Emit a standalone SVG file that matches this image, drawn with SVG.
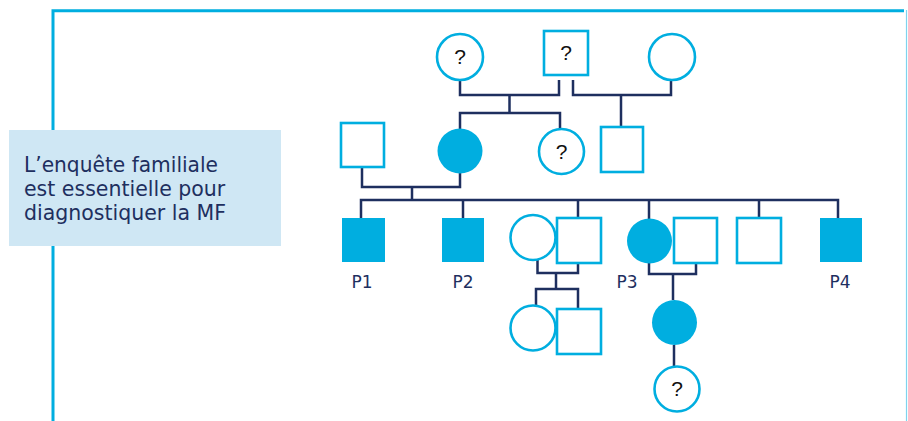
<svg xmlns="http://www.w3.org/2000/svg" width="908" height="421" viewBox="0 0 908 421">
<style>
.o{fill:#fff;stroke:#00aee0;stroke-width:2.6}
.f{fill:#00aee0;stroke:none}
.q{font-family:"Liberation Sans",Arial,sans-serif;font-size:21px;fill:#111;text-anchor:middle}
.lab{font-family:"DejaVu Sans",sans-serif;font-size:17px;fill:#1e2f5f;text-anchor:middle}
.note{font-family:"DejaVu Sans",sans-serif;font-size:20.5px;fill:#1e2f5f}
#connectors path{fill:none;stroke:#1e2f5f;stroke-width:2.5}
</style>
<rect width="908" height="421" fill="#fff"/>
<g id="frame">
<path d="M53,421 V10.7 H904" fill="none" stroke="#00aee0" stroke-width="3"/>
<path d="M906.5,10 V421" fill="none" stroke="#7fd3ee" stroke-width="1.2"/>
</g>
<g id="note">
<rect x="9" y="130" width="272" height="116" fill="#cfe7f4"/>
<text class="note" x="24" y="172" textLength="194" lengthAdjust="spacingAndGlyphs">L’enquête familiale</text>
<text class="note" x="24" y="196">est essentielle pour</text>
<text class="note" x="24" y="220">diagnostiquer la MF</text>
</g>
<g id="connectors">
<path d="M460,80 V95 H559 V80"/>
<path d="M573,80 V95 H671 V80"/>
<path d="M509.5,95 V113"/>
<path d="M460,129 V113 H560 V129"/>
<path d="M621,95 V127"/>
<path d="M362,167 V187 H460 V173"/>
<path d="M412,187 V200"/>
<path d="M361,218 V200 H838 V218"/>
<path d="M463,200 V218"/>
<path d="M578,200 V218"/>
<path d="M649,200 V219"/>
<path d="M759,200 V218"/>
<path d="M537.5,260 V273 H578 V263"/>
<path d="M556,273 V289"/>
<path d="M536,305 V289 H578 V309"/>
<path d="M649,263 V274 H696 V263"/>
<path d="M673,274 V300"/>
<path d="M674,345 V366"/>
</g>
<g id="g1-mother"><circle class="o" cx="460" cy="57" r="23"/><text class="q" x="460" y="64">?</text></g>
<g id="g1-father"><rect class="o" x="544" y="31" width="44" height="44"/><text class="q" x="566" y="60">?</text></g>
<g id="g1-wife2"><circle class="o" cx="672" cy="57" r="23"/></g>
<g id="g2-husband"><rect class="o" x="341" y="123" width="43" height="44"/></g>
<g id="g2-affected"><circle class="f" cx="460" cy="151" r="22.5"/></g>
<g id="g2-sister"><circle class="o" cx="561.5" cy="151.5" r="22.5"/><text class="q" x="561.5" y="158.5">?</text></g>
<g id="g2-halfbrother"><rect class="o" x="601" y="127" width="42" height="45"/></g>
<g id="P1"><rect class="f" x="342" y="218" width="43" height="44"/><text class="lab" x="362" y="288">P1</text></g>
<g id="P2"><rect class="f" x="442" y="218" width="42" height="44"/><text class="lab" x="463" y="288">P2</text></g>
<g id="g3-wife"><circle class="o" cx="533" cy="237.5" r="22.5"/></g>
<g id="g3-son"><rect class="o" x="557" y="218" width="44" height="45"/></g>
<g id="P3"><circle class="f" cx="649.5" cy="241" r="22.5"/><text class="lab" x="627" y="288">P3</text></g>
<g id="g3-p3husband"><rect class="o" x="674" y="218" width="43" height="45"/></g>
<g id="g3-brother"><rect class="o" x="737" y="218" width="44" height="45"/></g>
<g id="P4"><rect class="f" x="820" y="218" width="42" height="44"/><text class="lab" x="840" y="288">P4</text></g>
<g id="g4-daughter"><circle class="o" cx="533" cy="328" r="22.5"/></g>
<g id="g4-son"><rect class="o" x="557" y="309" width="44" height="45"/></g>
<g id="g4-affected"><circle class="f" cx="674.5" cy="322.5" r="22.5"/></g>
<g id="g5-child"><circle class="o" cx="677" cy="389" r="22.5"/><text class="q" x="677" y="396">?</text></g>
</svg>
